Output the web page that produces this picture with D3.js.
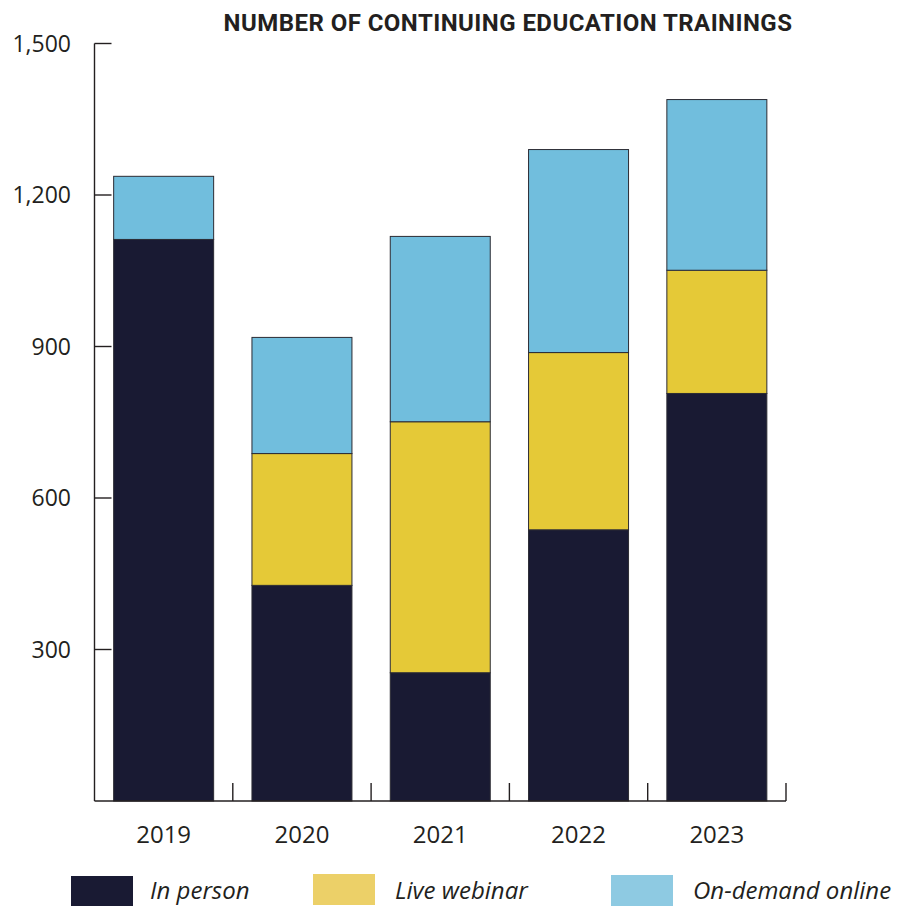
<!DOCTYPE html>
<html>
<head>
<meta charset="utf-8">
<script src="https://cdn.jsdelivr.net/npm/d3@7"></script>
<style>
  html, body { margin: 0; padding: 0; background: #fff; }
  svg { display: block; }
</style>
</head>
<body>
<svg id="chart" width="898" height="906"></svg>
<script>
// Continuing education trainings by delivery format, per year
const years = ["2019", "2020", "2021", "2022", "2023"];
const inPerson = [1112, 427, 254, 537, 807];
const liveWebinar = [0, 261, 497, 351, 244];
const onDemand = [125, 230, 367, 402, 338];
const seriesNames = ["In person", "Live webinar", "On-demand online"];
const yTicks = [300, 600, 900, 1200, 1500];

const barColors = ["#191a33", "#e5c937", "#71bedd"];
const legendColors = ["#191a33", "#ecd068", "#8ecae2"];
const ink = "#231f20";

const svg = d3.select("#chart");
const plotLeft = 94.5, plotRight = 786, plotTop = 43.5, plotBottom = 801;

const rows = years.map((yr, i) => ({
  year: yr, s0: inPerson[i], s1: liveWebinar[i], s2: onDemand[i]
}));
const stacked = d3.stack().keys(["s0", "s1", "s2"])(rows);

const x = d3.scaleBand().domain(years).range([plotLeft, plotRight])
  .paddingInner(0.277).paddingOuter(0.1385);
const y = d3.scaleLinear().domain([0, 1500]).range([plotBottom, plotTop]);

// Title
svg.append("text")
  .attr("x", 508).attr("y", 31)
  .attr("text-anchor", "middle")
  .attr("font-family", "Roboto, sans-serif")
  .attr("font-weight", 700)
  .attr("font-size", 24)
  .attr("letter-spacing", 0.45)
  .attr("fill", ink)
  .text("NUMBER OF CONTINUING EDUCATION TRAININGS");

// Bars
const layers = svg.append("g").selectAll("g")
  .data(stacked).join("g")
  .attr("fill", (d, i) => barColors[i]);
layers.selectAll("rect")
  .data(d => d.filter(p => p[1] - p[0] > 0))
  .join("rect")
  .attr("x", d => x(d.data.year))
  .attr("width", x.bandwidth())
  .attr("y", d => y(d[1]))
  .attr("height", d => y(d[0]) - y(d[1]))
  .attr("stroke", "#2b2b33")
  .attr("stroke-width", 1);

// Y axis: line with inward ticks
const yAxis = svg.append("g");
yAxis.append("line")
  .attr("x1", plotLeft).attr("x2", plotLeft)
  .attr("y1", y(1500)).attr("y2", plotBottom)
  .attr("stroke", ink).attr("stroke-width", 1.4);
yAxis.selectAll("line.tick").data(yTicks).join("line")
  .attr("class", "tick")
  .attr("x1", plotLeft).attr("x2", plotLeft + 17)
  .attr("y1", d => y(d)).attr("y2", d => y(d))
  .attr("stroke", ink).attr("stroke-width", 1.4);
yAxis.selectAll("text").data(yTicks).join("text")
  .attr("x", 71).attr("y", d => y(d))
  .attr("dy", "0.36em")
  .attr("text-anchor", "end")
  .attr("font-family", "'Open Sans', sans-serif")
  .attr("font-size", 23)
  .attr("fill", ink)
  .text(d => d3.format(",")(d));

// X axis: baseline with upward ticks at band boundaries
const xAxis = svg.append("g");
xAxis.append("line")
  .attr("x1", plotLeft).attr("x2", plotRight)
  .attr("y1", plotBottom).attr("y2", plotBottom)
  .attr("stroke", ink).attr("stroke-width", 1.4);
const bandEnd = d => x(d) - x.step() * x.paddingOuter() + x.step();
xAxis.selectAll("line.tick").data(years).join("line")
  .attr("class", "tick")
  .attr("x1", bandEnd).attr("x2", bandEnd)
  .attr("y1", plotBottom).attr("y2", plotBottom - 18)
  .attr("stroke", ink).attr("stroke-width", 1.4);
xAxis.selectAll("text").data(years).join("text")
  .attr("x", d => x(d) + x.bandwidth() / 2)
  .attr("y", 843)
  .attr("text-anchor", "middle")
  .attr("font-family", "'Open Sans', sans-serif")
  .attr("font-size", 24)
  .attr("fill", ink)
  .text(d => d);

// Legend
const legendX = [71, 313, 611];
const legendY = [876, 874, 875];
const legendTextX = [150, 395, 693];
const legend = svg.append("g").selectAll("g")
  .data(seriesNames).join("g");
legend.append("rect")
  .attr("x", (d, i) => legendX[i]).attr("y", (d, i) => legendY[i])
  .attr("width", 62).attr("height", 31)
  .attr("fill", (d, i) => legendColors[i]);
legend.append("text")
  .attr("x", (d, i) => legendTextX[i]).attr("y", 899)
  .attr("font-family", "'Open Sans', sans-serif")
  .attr("font-style", "italic")
  .attr("font-size", 24)
  .attr("fill", ink)
  .text(d => d);
</script>
</body>
</html>
